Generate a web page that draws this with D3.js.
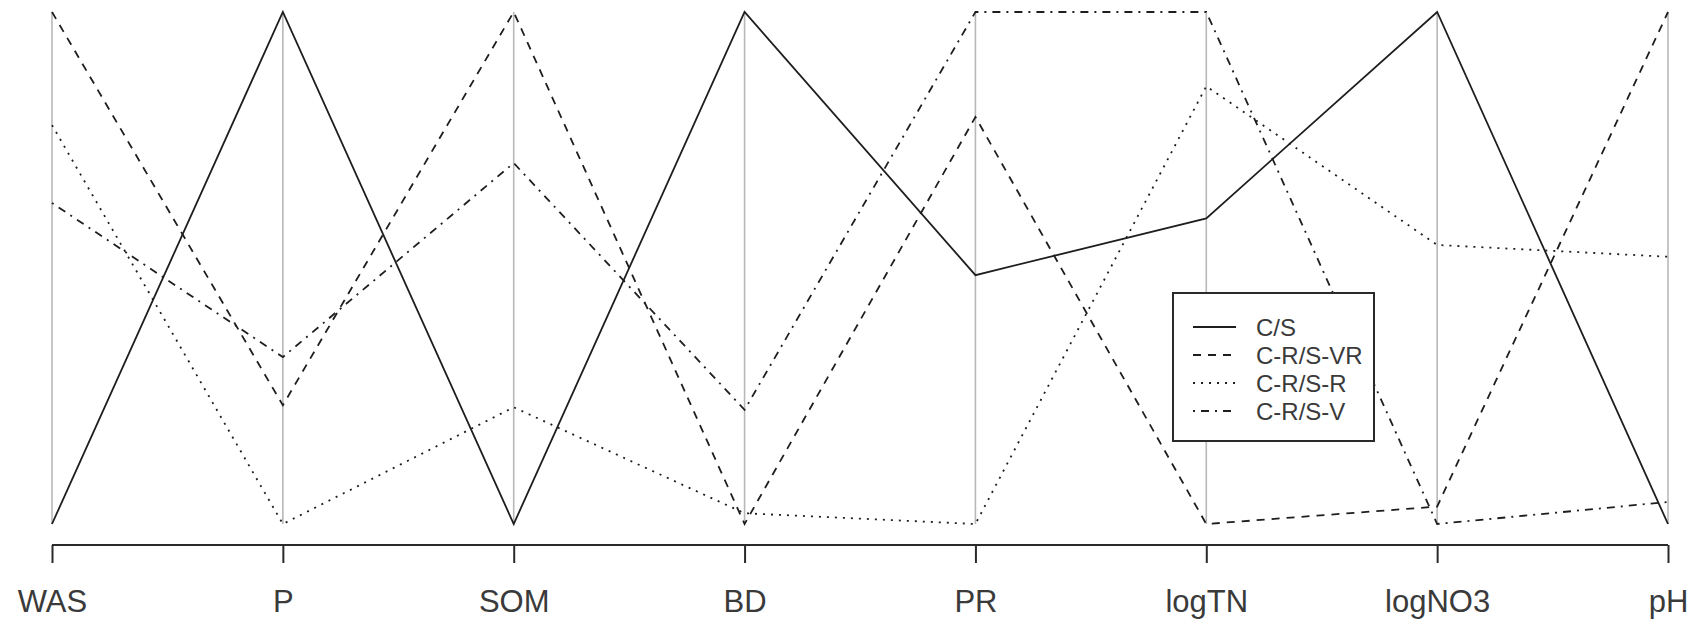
<!DOCTYPE html>
<html>
<head>
<meta charset="utf-8">
<script src="https://cdn.jsdelivr.net/npm/d3@7"></script>
<style>
  html, body { margin: 0; padding: 0; background: #fff; }
  svg { display: block; }
</style>
</head>
<body>
<svg id="chart" width="1701" height="623"></svg>
<script>
// Axis (variable) names
const variables = ["WAS", "P", "SOM", "BD", "PR", "logTN", "logNO3", "pH"];
// Series names (legend order)
const seriesNames = ["C/S", "C-R/S-VR", "C-R/S-R", "C-R/S-V"];
// Normalised (0–1) values per series, in variable order
const valuesCS   = [0.000, 1.000, 0.000, 1.000, 0.486, 0.597, 1.000, 0.000];
const valuesCRVR = [1.000, 0.232, 1.000, 0.000, 0.795, 0.000, 0.034, 1.000];
const valuesCRR  = [0.779, 0.000, 0.228, 0.021, 0.000, 0.855, 0.545, 0.522];
const valuesCRV  = [0.627, 0.326, 0.705, 0.223, 1.000, 1.000, 0.000, 0.043];

const seriesValues = [valuesCS, valuesCRVR, valuesCRR, valuesCRV];
const dashes = [null, "8,7", "2,6", "2,6,8,6"];

const svg = d3.select("#chart");
const font = "'Liberation Sans', Arial, Helvetica, sans-serif";

const x = d3.scalePoint().domain(variables).range([52, 1668]);
const y = d3.scaleLinear().domain([0, 1]).range([524, 12]);

// grey vertical axis lines (data range 0..1)
svg.append("g").selectAll("line")
  .data(variables)
  .join("line")
  .attr("x1", d => x(d)).attr("x2", d => x(d))
  .attr("y1", y(0)).attr("y2", y(1))
  .attr("stroke", "#b8b8b8")
  .attr("stroke-width", 1.6);

// series lines
const line = d3.line()
  .x((d, i) => x(variables[i]))
  .y(d => y(d));

svg.append("g").selectAll("path")
  .data(seriesValues)
  .join("path")
  .attr("d", d => line(d))
  .attr("fill", "none")
  .attr("stroke", "#1e1e1e")
  .attr("stroke-width", 1.8)
  .attr("stroke-dasharray", (d, i) => dashes[i]);

// bottom axis
const axisY = 545;
const axis = d3.axisBottom(x).tickSizeInner(18).tickSizeOuter(0).tickPadding(0);
const ag = svg.append("g").attr("transform", `translate(0,${axisY})`).call(axis);
ag.select(".domain").attr("stroke", "#2a2a2a").attr("stroke-width", 2)
  .attr("d", `M${x(variables[0])},0H${x(variables[variables.length-1])}`);
ag.selectAll(".tick line").attr("stroke", "#2a2a2a").attr("stroke-width", 2);
ag.selectAll(".tick text")
  .attr("font-family", font)
  .attr("font-size", 31)
  .attr("fill", "#3a3a3a")
  .attr("dy", null)
  .attr("y", 67);

// legend
const lg = svg.append("g");
lg.append("rect")
  .attr("x", 1173).attr("y", 293)
  .attr("width", 201).attr("height", 148)
  .attr("fill", "#fff")
  .attr("stroke", "#2a2a2a")
  .attr("stroke-width", 2);

const rowY = d3.scalePoint().domain(seriesNames).range([327, 411]);
const rows = lg.selectAll("g.row").data(seriesNames).join("g").attr("class", "row");
rows.append("line")
  .attr("x1", 1193).attr("x2", 1236)
  .attr("y1", d => rowY(d)).attr("y2", d => rowY(d))
  .attr("stroke", "#1e1e1e")
  .attr("stroke-width", 1.8)
  .attr("stroke-dasharray", (d, i) => dashes[i]);
rows.append("text")
  .attr("x", 1256)
  .attr("y", d => rowY(d) + 8.5)
  .attr("font-family", font)
  .attr("font-size", 24)
  .attr("fill", "#3a3a3a")
  .text(d => d);
</script>
</body>
</html>
